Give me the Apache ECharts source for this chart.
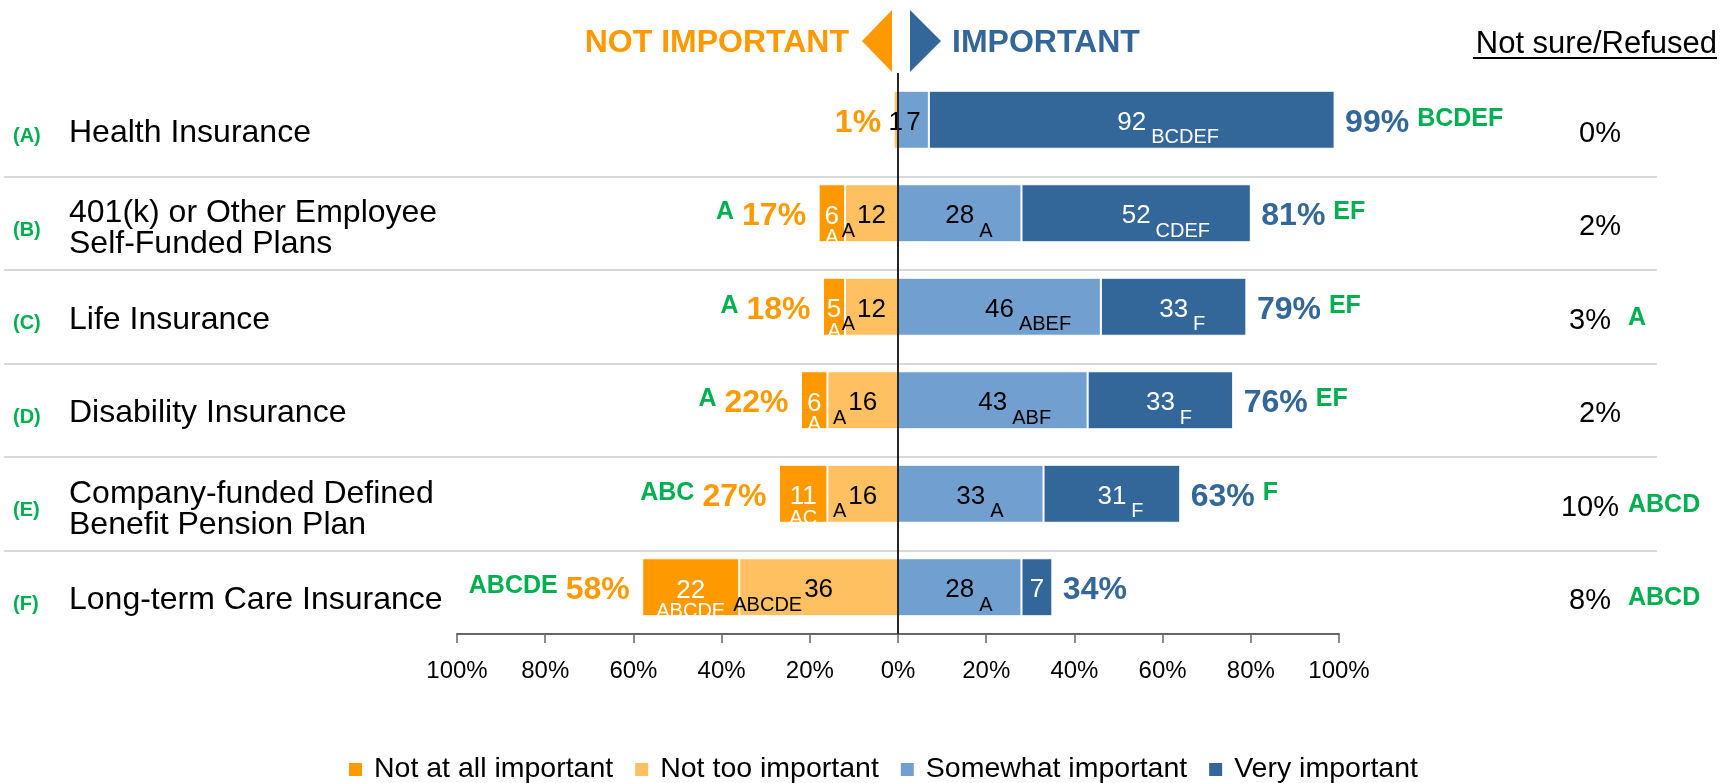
<!DOCTYPE html>
<html>
<head>
<meta charset="utf-8">
<script src="https://cdn.jsdelivr.net/npm/echarts@6.0.0/dist/echarts.min.js"></script>
<style>
  html, body { margin: 0; padding: 0; background: #fff; }
  #main { width: 1734px; height: 783px; }
</style>
</head>
<body>
<div id="main"></div>
<script>
const categories = [
  "Health Insurance",
  "401(k) or Other Employee\nSelf-Funded Plans",
  "Life Insurance",
  "Disability Insurance",
  "Company-funded Defined\nBenefit Pension Plan",
  "Long-term Care Insurance",
];
const rowLetters = ["(A)", "(B)", "(C)", "(D)", "(E)", "(F)"];

const notAtAll = [0, 6, 5, 6, 11, 22];
const notToo = [1, 12, 12, 16, 16, 36];
const somewhat = [7, 28, 46, 43, 33, 28];
const very = [92, 52, 33, 33, 31, 7];
const netNot = [1, 17, 18, 22, 27, 58];
const netImp = [99, 81, 79, 76, 63, 34];
const notSure = [0, 2, 3, 2, 10, 8];

// significance letters
const sigNotAtAll = ["", "A", "A", "A", "AC", "ABCDE"];
const sigNotToo = ["", "A", "A", "A", "A", "ABCDE"];
const sigSomewhat = ["", "A", "ABEF", "ABF", "A", "A"];
const sigVery = ["BCDEF", "CDEF", "F", "F", "F", ""];
const sigNetNot = ["", "A", "A", "A", "ABC", "ABCDE"];
const sigNetImp = ["BCDEF", "EF", "EF", "EF", "F", ""];
const sigNotSure = ["", "", "A", "", "ABCD", "ABCD"];

const legendNames = ["Not at all important", "Not too important", "Somewhat important", "Very important"];

const fontFamily = "'Liberation Sans', Arial, Helvetica, sans-serif";
const ORANGE = "#FF9900";
const LIGHT_ORANGE = "#FFC061";
const LIGHT_BLUE = "#71A0D0";
const BLUE = "#336699";
const GREEN = "#00B050";

function segRich(color) {
  return {
    n: { fontSize: 26, color, lineHeight: 28, padding: [19, 0, 13, 0] },
    sr: { fontSize: 20, color, lineHeight: 20, padding: [38, 0, 2, 5] },
    hr: { fontSize: 20, color: "rgba(0,0,0,0)", lineHeight: 20, padding: [38, 5, 2, 0] },
    sl: { fontSize: 20, color, lineHeight: 20, padding: [38, 2, 2, 0] },
    hl: { fontSize: 20, color: "rgba(0,0,0,0)", lineHeight: 20, padding: [38, 0, 2, 2] },
    e: { fontSize: 4, lineHeight: 21 },
    nt: { fontSize: 26, color, lineHeight: 28 },
    st: { fontSize: 20, color, lineHeight: 14 },
  };
}

function segLabel(val, sig, mode) {
  if (!val) return "";
  if (!sig) return `{n|${val}}`;
  if (mode === "stack") return `{e| }\n{nt|${val}}\n{st|${sig}}`;
  if (mode === "left") return `{sl|${sig}}{n|${val}}{hl|${sig}}`;
  return `{hr|${sig}}{n|${val}}{sr|${sig}}`;
}

function barSeries(name, data, color, textColor, sig, mode) {
  return {
    name,
    type: "bar",
    stack: "total",
    barWidth: "62%",
    data,
    itemStyle: { color, borderColor: "#fff", borderWidth: 1 },
    label: {
      show: true,
      position: "inside",
      formatter: (p) => segLabel(Math.abs(p.value), sig[p.dataIndex], mode),
      rich: segRich(textColor),
    },
    emphasis: { disabled: true },
  };
}

const chart = echarts.init(document.getElementById("main"));

const option = {
  animation: false,
  textStyle: { fontFamily },
  grid: { left: 457, right: 395, top: 73, bottom: 149 },
  legend: {
    data: legendNames,
    left: 344,
    top: 750,
    icon: "rect",
    itemWidth: 13,
    itemHeight: 13,
    itemGap: 22,
    itemStyle: { borderWidth: 0 },
    textStyle: { fontSize: 28.5, color: "#000", padding: [0, 0, 0, 7] },
    selectedMode: false,
  },
  xAxis: {
    type: "value",
    min: -100,
    max: 100,
    interval: 20,
    splitLine: { show: false },
    axisLine: { show: true, lineStyle: { color: "#666", width: 2 } },
    axisTick: { show: true, length: 9, lineStyle: { color: "#666", width: 1.5 } },
    axisLabel: {
      fontSize: 24,
      color: "#000",
      margin: 25,
      formatter: (v) => Math.abs(v) + "%",
    },
  },
  yAxis: [
    {
      type: "category",
      data: categories,
      inverse: true,
      axisLine: { show: false },
      axisTick: { show: false },
      axisLabel: {
        align: "left",
        margin: 388,
        formatter: (v) => {
          const lines = v.split("\n");
          if (lines.length === 1) return `{e1| }\n{q|${v}}`;
          return `{e2| }\n{q|${lines[0]}}\n{q|${lines[1]}}`;
        },
        rich: {
          e1: { fontSize: 4, lineHeight: 26 },
          e2: { fontSize: 4, lineHeight: 31 },
          q: { fontSize: 32, lineHeight: 31, color: "#000" },
        },
      },
    },
    {
      type: "category",
      data: categories,
      inverse: true,
      position: "left",
      axisLine: { show: false },
      axisTick: { show: false },
      axisLabel: {
        align: "left",
        margin: 444,
        formatter: (v, i) => `{r|${rowLetters[i]}}`,
        rich: {
          r: { fontSize: 20, fontWeight: "bold", color: GREEN, lineHeight: 24, padding: [34, 0, 0, 0] },
        },
      },
    },
    {
      type: "category",
      data: categories,
      inverse: true,
      position: "right",
      axisLine: { show: false },
      axisTick: { show: false },
      axisLabel: {
        align: "left",
        margin: 220,
        formatter: (v, i) =>
          `{v|${notSure[i]}%}` + (sigNotSure[i] ? `{g|${sigNotSure[i]}}` : ""),
        rich: {
          v: { fontSize: 29, color: "#000", width: 62, align: "right", lineHeight: 34, padding: [30, 0, 2, 0] },
          g: { fontSize: 25, fontWeight: "bold", color: GREEN, lineHeight: 28, padding: [30, 0, 8, 7] },
        },
      },
    },
  ],
  series: [
    barSeries("Not too important", notToo.map((v) => -v), LIGHT_ORANGE, "#000", sigNotToo, "left"),
    barSeries("Not at all important", notAtAll.map((v) => -v), ORANGE, "#fff", sigNotAtAll, "stack"),
    Object.assign(
      barSeries("Somewhat important", somewhat, LIGHT_BLUE, "#000", sigSomewhat, "right"),
      {
        markLine: {
          silent: true,
          symbol: ["none", "none"],
          label: { show: false },
          lineStyle: { color: "#262626", width: 2, type: "solid" },
          data: [{ xAxis: 0 }],
        },
      }
    ),
    barSeries("Very important", very, BLUE, "#fff", sigVery, "right"),
    {
      type: "scatter",
      symbolSize: 1,
      itemStyle: { color: "rgba(0,0,0,0)", opacity: 1 },
      data: netNot.map((v, i) => [-(notAtAll[i] + notToo[i]), i]),
      label: {
        show: true,
        position: "left",
        distance: 12,
        formatter: (p) => {
          const i = p.dataIndex;
          return (sigNetNot[i] ? `{g|${sigNetNot[i]}}` : "") + `{o|${netNot[i]}%}`;
        },
        rich: {
          o: { fontSize: 32, fontWeight: "bold", color: ORANGE, lineHeight: 34, padding: [9, 0, 3, 0] },
          g: { fontSize: 25, fontWeight: "bold", color: GREEN, lineHeight: 26, padding: [9, 8, 11, 0] },
        },
      },
      emphasis: { disabled: true },
    },
    {
      type: "scatter",
      symbolSize: 1,
      itemStyle: { color: "rgba(0,0,0,0)", opacity: 1 },
      data: netImp.map((v, i) => [somewhat[i] + very[i], i]),
      label: {
        show: true,
        position: "right",
        distance: 10,
        formatter: (p) => {
          const i = p.dataIndex;
          return `{b|${netImp[i]}%}` + (sigNetImp[i] ? `{g|${sigNetImp[i]}}` : "");
        },
        rich: {
          b: { fontSize: 32, fontWeight: "bold", color: BLUE, lineHeight: 34, padding: [9, 0, 3, 0] },
          g: { fontSize: 25, fontWeight: "bold", color: GREEN, lineHeight: 26, padding: [9, 0, 11, 8] },
        },
      },
      emphasis: { disabled: true },
    },
  ],
};

chart.setOption(option);

// table decorations: header and row separators
const rowY = categories.map((c, i) => chart.convertToPixel({ yAxisIndex: 0 }, i));
const graphics = [
  {
    type: "text", x: 849, y: 43,
    style: { text: "NOT IMPORTANT", font: `bold 32px ${fontFamily}`, fill: ORANGE, align: "right", verticalAlign: "middle" },
  },
  { type: "polygon", shape: { points: [[862, 41], [892, 10], [892, 72]] }, style: { fill: ORANGE } },
  { type: "polygon", shape: { points: [[910, 10], [941, 41], [910, 72]] }, style: { fill: BLUE } },
  {
    type: "text", x: 952, y: 43,
    style: { text: "IMPORTANT", font: `bold 32px ${fontFamily}`, fill: BLUE, align: "left", verticalAlign: "middle" },
  },
  {
    type: "text", x: 1717, y: 44,
    style: { text: "Not sure/Refused", font: `31px ${fontFamily}`, fill: "#000", align: "right", verticalAlign: "middle" },
  },
  { type: "rect", shape: { x: 1473, y: 57, width: 244, height: 2 }, style: { fill: "#000" } },
];
for (let i = 0; i < rowY.length - 1; i++) {
  const y = Math.round((rowY[i] + rowY[i + 1]) / 2 + 10);
  graphics.push({
    type: "line",
    shape: { x1: 4, y1: y, x2: 1657, y2: y },
    style: { stroke: "#D9D9D9", lineWidth: 2 },
    z: -1,
  });
}
chart.setOption({ graphic: graphics });
</script>
</body>
</html>
